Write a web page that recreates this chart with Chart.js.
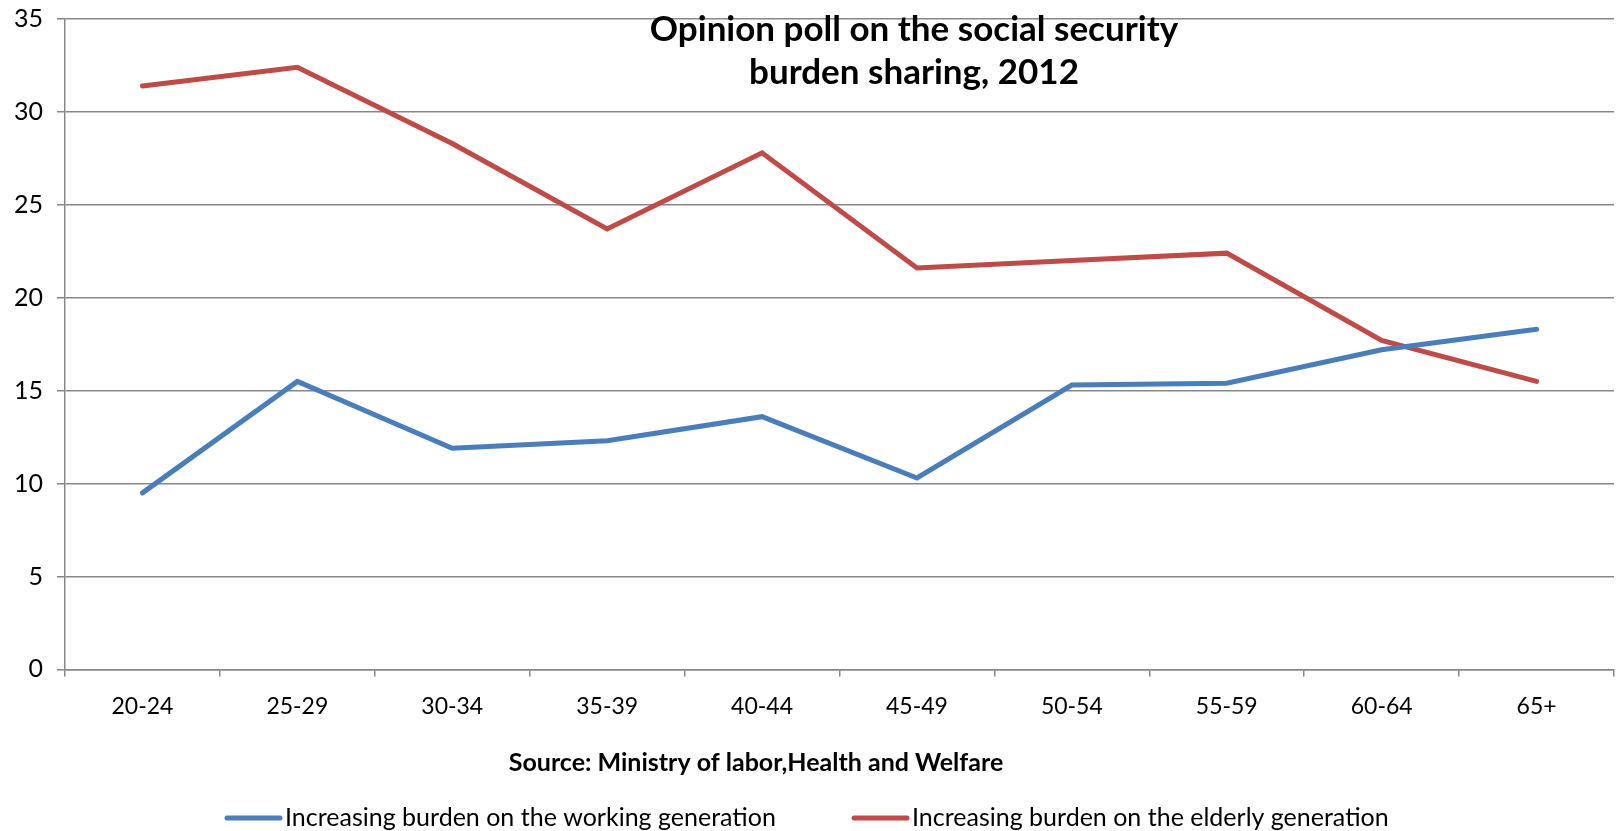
<!DOCTYPE html>
<html>
<head>
<meta charset="utf-8">
<script src="https://cdn.jsdelivr.net/npm/chart.js@4.4.1/dist/chart.umd.min.js"></script>
<style>
  html, body { margin: 0; padding: 0; background: #fff; }
  #wrap { width: 1617px; height: 831px; }
</style>
</head>
<body>
<div id="wrap"><canvas id="myChart" width="1617" height="831"></canvas></div>
<script>
var ageGroups = ['20-24', '25-29', '30-34', '35-39', '40-44', '45-49', '50-54', '55-59', '60-64', '65+']
var workingGen = [9.5, 15.5, 11.9, 12.3, 13.6, 10.3, 15.3, 15.4, 17.2, 18.3]
var elderlyGen = [31.4, 32.4, 28.3, 23.7, 27.8, 21.6, 22.0, 22.4, 17.7, 15.5]
var yTicks = [0, 5, 10, 15, 20, 25, 30, 35]

var titleLines = ['Opinion poll on the social security', 'burden sharing, 2012']
var sourceText = 'Source: Ministry of labor,Health and Welfare'

var FONT = 'Lato, "Open Sans", sans-serif'
var GRID = '#878787'

// title sits inside the plot area, source and legend are off-centre in the original,
// so these are drawn by hand
const textPlugin = {
  id: 'extraText',
  afterDraw(chart) {
    const ctx = chart.ctx
    ctx.save()
    ctx.fillStyle = '#000'
    ctx.textAlign = 'center'
    ctx.textBaseline = 'middle'
    ctx.font = 'bold 35px ' + FONT
    ctx.fillText(titleLines[0], 914, 30)
    ctx.fillText(titleLines[1], 914, 73)

    ctx.font = 'bold 25px ' + FONT
    ctx.fillText(sourceText, 756, 763)

    // legend
    const spots = [227, 854]
    ctx.font = '25px ' + FONT
    ctx.textAlign = 'left'
    chart.data.datasets.forEach((ds, i) => {
      const x = spots[i]
      ctx.strokeStyle = ds.borderColor
      ctx.lineWidth = 5
      ctx.lineCap = 'round'
      ctx.beginPath()
      ctx.moveTo(x, 818)
      ctx.lineTo(x + 53, 818)
      ctx.stroke()
      ctx.fillStyle = '#000'
      ctx.fillText(ds.label, x + 58, 818)
    })
    ctx.restore()
  }
}

const data = {
  labels: ageGroups,
  datasets: [{
    label: 'Increasing burden on the working generation',
    data: workingGen,
    borderColor: '#4a7ebb',
    backgroundColor: '#4a7ebb',
    borderWidth: 5,
    pointRadius: 0,
    tension: 0,
    borderCapStyle: 'round'
  }, {
    label: 'Increasing burden on the elderly generation',
    data: elderlyGen,
    borderColor: '#be4b48',
    backgroundColor: '#be4b48',
    borderWidth: 5,
    pointRadius: 0,
    tension: 0,
    borderCapStyle: 'round'
  }]
}

const config = {
  type: 'line',
  data: data,
  plugins: [textPlugin],
  options: {
    responsive: false,
    animation: false,
    layout: { padding: { top: 19, right: 3, left: 0, bottom: 95 } },
    plugins: {
      title: { display: false },
      tooltip: { enabled: false },
      legend: { display: false }
    },
    scales: {
      x: {
        offset: true,
        grid: {
          offset: true,
          drawOnChartArea: false,
          drawTicks: true,
          tickLength: 7,
          color: GRID,
          lineWidth: 1.5
        },
        border: { color: GRID, width: 1.5 },
        ticks: { color: '#000', padding: 16, font: { family: FONT, size: 23 } }
      },
      y: {
        min: 0,
        max: 35,
        afterBuildTicks: function (axis) {
          axis.ticks = yTicks.map(v => ({ value: v }))
        },
        afterFit: function (axis) {
          axis.paddingTop = 0
        },
        grid: { color: GRID, lineWidth: 1.5, tickLength: 8 },
        border: { color: GRID, width: 1.5 },
        ticks: { color: '#000', padding: 14, font: { family: FONT, size: 25 } }
      }
    }
  }
}

const myChart = new Chart(document.getElementById('myChart'), config)
</script>
</body>
</html>
